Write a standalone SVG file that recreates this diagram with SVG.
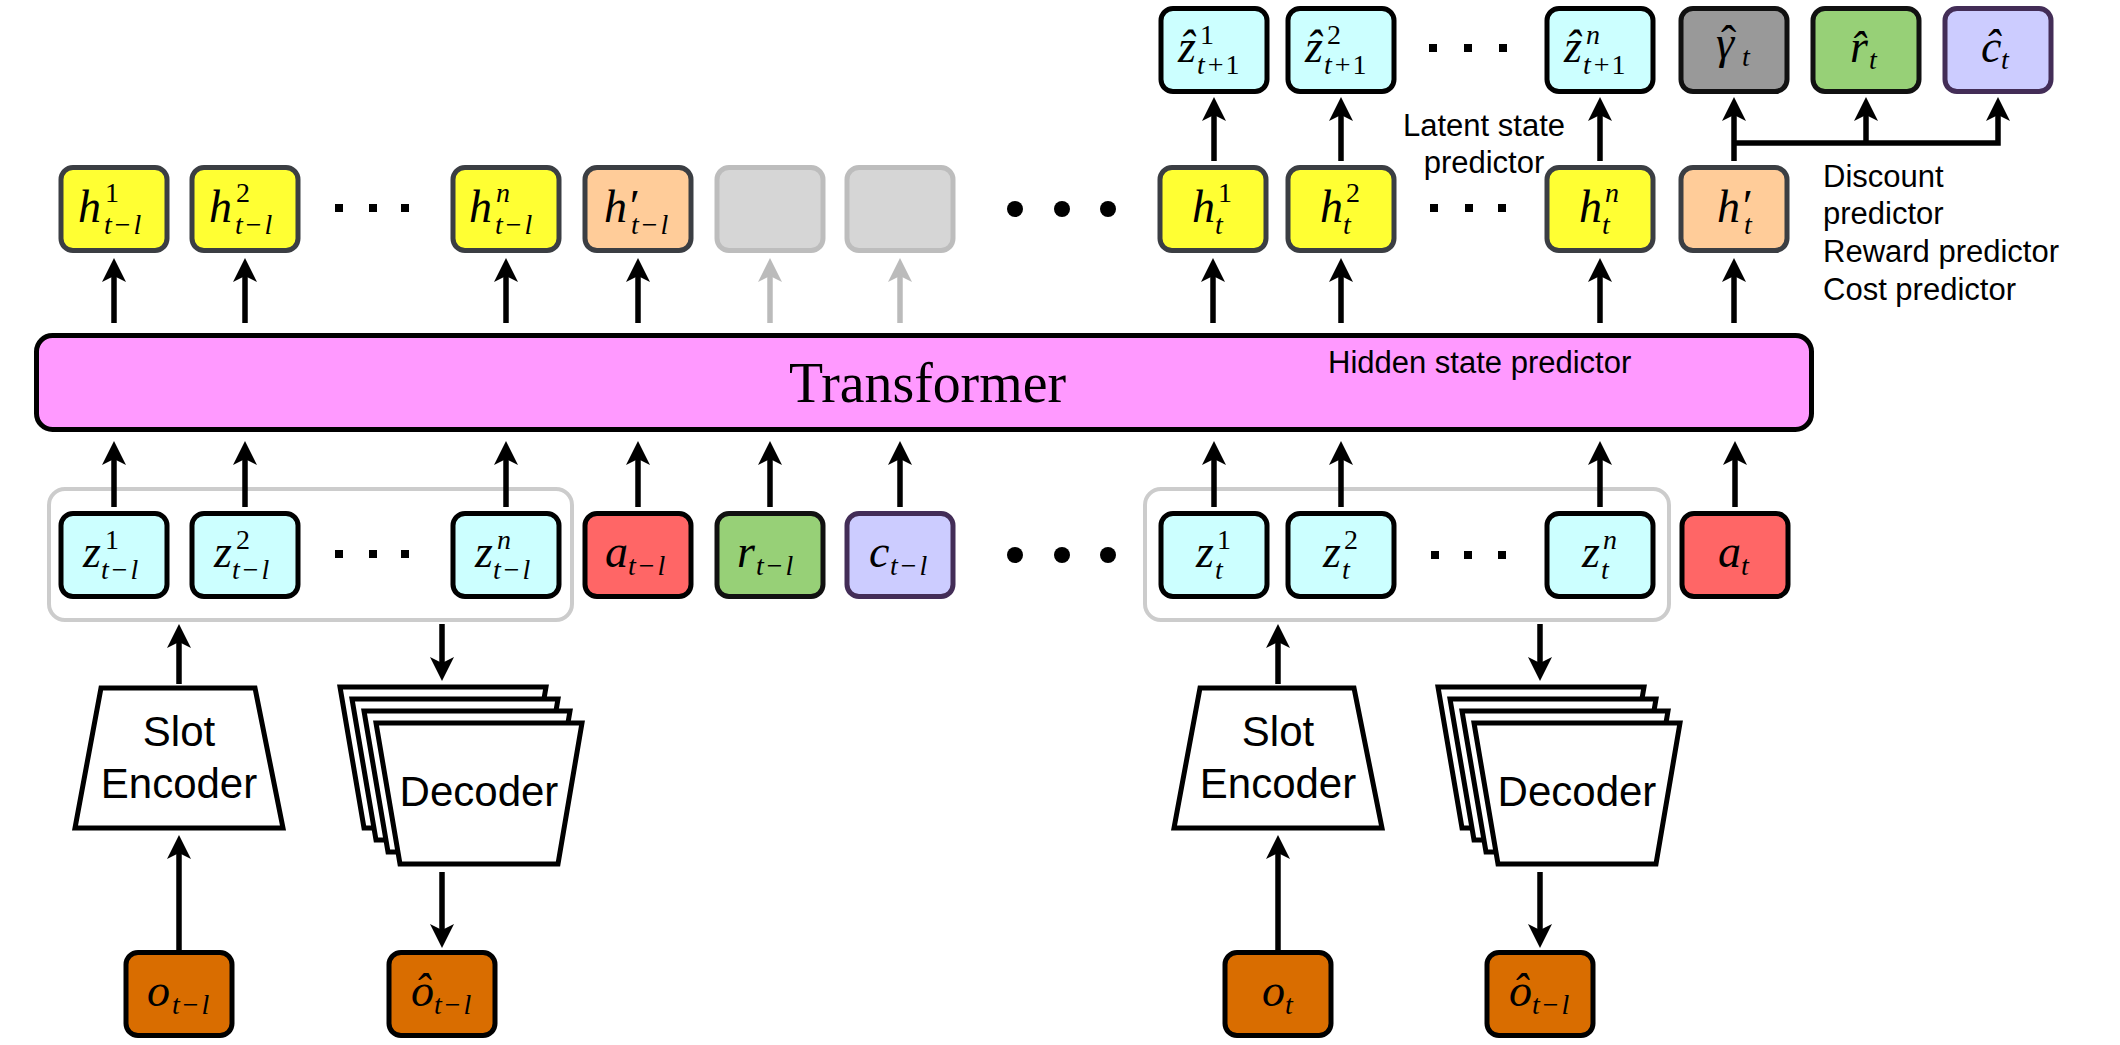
<svg xmlns="http://www.w3.org/2000/svg" width="2120" height="1045" viewBox="0 0 2120 1045">
<defs>
<style>
.bx{stroke-width:5}
.hy{fill:#ffff33;stroke:#3b3e43}
.hp{fill:#ffcc99;stroke:#3b3e43}
.gr{fill:#d6d6d6;stroke:#bdbdbd}
.cy{fill:#ccffff;stroke:#000}
.ga{fill:#999999;stroke:#111}
.gn{fill:#97d077;stroke:#111}
.pu{fill:#ccccff;stroke:#432d57}
.rd{fill:#ff6666;stroke:#000}
.or{fill:#d96d00;stroke:#000}
.grp{fill:none;stroke:#cccccc;stroke-width:4}
.sh{fill:#fff;stroke:#000;stroke-width:5;stroke-linejoin:miter}
.m{font-family:"Liberation Serif","DejaVu Serif",serif;font-size:46px;font-style:italic;fill:#000}
.s{font-size:28px}
.u{font-style:normal}
.lb{font-family:"Liberation Sans",Arial,sans-serif;font-size:31px;fill:#000}
.nl{font-family:"Liberation Sans",Arial,sans-serif;font-size:42px;fill:#000;text-anchor:middle}
.ar{stroke:#000;stroke-width:5.5;fill:none;marker-end:url(#ah)}
.ag{stroke:#bbbbbb;stroke-width:5.5;fill:none;marker-end:url(#ahg)}
.dot{fill:#000}
</style>
<marker id="ah" viewBox="0 0 24 24" markerWidth="24" markerHeight="24" markerUnits="userSpaceOnUse" refX="12" refY="12" orient="auto"><path d="M0,0 L24,12 L0,24 L6,12 Z" fill="#000"/></marker>
<marker id="ahg" viewBox="0 0 24 24" markerWidth="24" markerHeight="24" markerUnits="userSpaceOnUse" refX="12" refY="12" orient="auto"><path d="M0,0 L24,12 L0,24 L6,12 Z" fill="#bbbbbb"/></marker>
</defs>
<rect width="2120" height="1045" fill="#fff"/>

<g id="slot-groups">
<rect class="grp" x="49" y="489" width="523" height="131" rx="16"/>
<rect class="grp" x="1145" y="489" width="524" height="131" rx="16"/>
</g>

<g id="transformer">
<rect x="36.5" y="335.5" width="1775" height="94" rx="16" fill="#ff99ff" stroke="#000" stroke-width="5"/>
<text x="789" y="402" font-family="Liberation Serif, DejaVu Serif, serif" font-size="58" textLength="277" lengthAdjust="spacingAndGlyphs">Transformer</text>
<text class="lb" x="1328" y="373">Hidden state predictor</text>
</g>

<g id="connectors">
<line class="ar" x1="114" y1="323" x2="114" y2="270"/>
<line class="ar" x1="245" y1="323" x2="245" y2="270"/>
<line class="ar" x1="506" y1="323" x2="506" y2="270"/>
<line class="ar" x1="638" y1="323" x2="638" y2="270"/>
<line class="ag" x1="770" y1="323" x2="770" y2="270"/>
<line class="ag" x1="900" y1="323" x2="900" y2="270"/>
<line class="ar" x1="1213" y1="323" x2="1213" y2="270"/>
<line class="ar" x1="1341" y1="323" x2="1341" y2="270"/>
<line class="ar" x1="1600" y1="323" x2="1600" y2="270"/>
<line class="ar" x1="1734" y1="323" x2="1734" y2="270"/>
<line class="ar" x1="1214" y1="161" x2="1214" y2="109"/>
<line class="ar" x1="1341" y1="161" x2="1341" y2="109"/>
<line class="ar" x1="1600" y1="161" x2="1600" y2="109"/>
<line class="ar" x1="1734" y1="161" x2="1734" y2="109"/>
<line class="ar" x1="1866" y1="143" x2="1866" y2="109"/>
<path class="ar" d="M1734,143 H1998 V109"/>
<line class="ar" x1="114" y1="507" x2="114" y2="453"/>
<line class="ar" x1="245" y1="507" x2="245" y2="453"/>
<line class="ar" x1="506" y1="507" x2="506" y2="453"/>
<line class="ar" x1="638" y1="507" x2="638" y2="453"/>
<line class="ar" x1="770" y1="507" x2="770" y2="453"/>
<line class="ar" x1="900" y1="507" x2="900" y2="453"/>
<line class="ar" x1="1214" y1="507" x2="1214" y2="453"/>
<line class="ar" x1="1341" y1="507" x2="1341" y2="453"/>
<line class="ar" x1="1600" y1="507" x2="1600" y2="453"/>
<line class="ar" x1="1735" y1="507" x2="1735" y2="453"/>
<line class="ar" x1="179" y1="684" x2="179" y2="636"/>
<line class="ar" x1="1278" y1="684" x2="1278" y2="636"/>
<line class="ar" x1="442" y1="624" x2="442" y2="669"/>
<line class="ar" x1="1540" y1="624" x2="1540" y2="669"/>
<line class="ar" x1="179" y1="950" x2="179" y2="847"/>
<line class="ar" x1="1278" y1="950" x2="1278" y2="847"/>
<line class="ar" x1="442" y1="872" x2="442" y2="936"/>
<line class="ar" x1="1540" y1="872" x2="1540" y2="936"/>
</g>

<g id="ellipses">
<rect class="dot" x="335" y="204" width="8" height="8"/><rect class="dot" x="369" y="204" width="8" height="8"/><rect class="dot" x="401" y="204" width="8" height="8"/>
<rect class="dot" x="335" y="550" width="8" height="8"/><rect class="dot" x="369" y="550" width="8" height="8"/><rect class="dot" x="401" y="550" width="8" height="8"/>
<rect class="dot" x="1430" y="204" width="8" height="8"/><rect class="dot" x="1465" y="204" width="8" height="8"/><rect class="dot" x="1498" y="204" width="8" height="8"/>
<rect class="dot" x="1431" y="551" width="8" height="8"/><rect class="dot" x="1464" y="551" width="8" height="8"/><rect class="dot" x="1498" y="551" width="8" height="8"/>
<rect class="dot" x="1429" y="44" width="8" height="8"/><rect class="dot" x="1464" y="44" width="8" height="8"/><rect class="dot" x="1499" y="44" width="8" height="8"/>
<circle class="dot" cx="1015" cy="209" r="8"/><circle class="dot" cx="1062" cy="209" r="8"/><circle class="dot" cx="1108" cy="209" r="8"/>
<circle class="dot" cx="1015" cy="555" r="8"/><circle class="dot" cx="1062" cy="555" r="8"/><circle class="dot" cx="1108" cy="555" r="8"/>
</g>

<!-- h row -->
<g id="h1-tl"><rect class="bx hy" x="61" y="167.5" width="106" height="83" rx="12"/>
<text class="m"><tspan x="78" y="222">h</tspan><tspan class="s u" x="105" y="202">1</tspan><tspan class="s" x="104" y="234">t</tspan><tspan class="s u" dx="3">−</tspan><tspan class="s" dx="3">l</tspan></text></g>
<g id="h2-tl"><rect class="bx hy" x="192" y="167.5" width="106" height="83" rx="12"/>
<text class="m"><tspan x="209" y="222">h</tspan><tspan class="s u" x="236" y="202">2</tspan><tspan class="s" x="235" y="234">t</tspan><tspan class="s u" dx="3">−</tspan><tspan class="s" dx="3">l</tspan></text></g>
<g id="hn-tl"><rect class="bx hy" x="453" y="167.5" width="106" height="83" rx="12"/>
<text class="m"><tspan x="469" y="222">h</tspan><tspan class="s" x="496" y="202">n</tspan><tspan class="s" x="495" y="234">t</tspan><tspan class="s u" dx="3">−</tspan><tspan class="s" dx="3">l</tspan></text></g>
<g id="hp-tl"><rect class="bx hp" x="585" y="167.5" width="106" height="83" rx="12"/>
<text class="m"><tspan x="604" y="222">h′</tspan><tspan class="s" x="631" y="234">t</tspan><tspan class="s u" dx="3">−</tspan><tspan class="s" dx="3">l</tspan></text></g>
<g id="ghost1"><rect class="bx gr" x="717" y="167.5" width="106" height="83" rx="12"/></g>
<g id="ghost2"><rect class="bx gr" x="847" y="167.5" width="106" height="83" rx="12"/></g>
<g id="h1-t"><rect class="bx hy" x="1160" y="167.5" width="106" height="83" rx="12"/>
<text class="m"><tspan x="1192" y="222">h</tspan><tspan class="s u" x="1218" y="202">1</tspan><tspan class="s" x="1215" y="234">t</tspan></text></g>
<g id="h2-t"><rect class="bx hy" x="1288" y="167.5" width="106" height="83" rx="12"/>
<text class="m"><tspan x="1320" y="222">h</tspan><tspan class="s u" x="1346" y="202">2</tspan><tspan class="s" x="1343" y="234">t</tspan></text></g>
<g id="hn-t"><rect class="bx hy" x="1547" y="167.5" width="106" height="83" rx="12"/>
<text class="m"><tspan x="1579" y="222">h</tspan><tspan class="s" x="1605" y="202">n</tspan><tspan class="s" x="1602" y="234">t</tspan></text></g>
<g id="hp-t"><rect class="bx hp" x="1681" y="167.5" width="106" height="83" rx="12"/>
<text class="m"><tspan x="1717" y="222">h′</tspan><tspan class="s" x="1744" y="234">t</tspan></text></g>

<!-- top prediction row -->
<g id="zh1"><rect class="bx cy" x="1161" y="8.5" width="106" height="83" rx="12"/>
<text class="m"><tspan x="1178" y="62">z&#x302;</tspan><tspan class="s u" x="1200" y="44">1</tspan><tspan class="s" x="1197" y="74">t</tspan><tspan class="s u" dx="3">+</tspan><tspan class="s u" dx="2">1</tspan></text></g>
<g id="zh2"><rect class="bx cy" x="1288" y="8.5" width="106" height="83" rx="12"/>
<text class="m"><tspan x="1305" y="62">z&#x302;</tspan><tspan class="s u" x="1327" y="44">2</tspan><tspan class="s" x="1324" y="74">t</tspan><tspan class="s u" dx="3">+</tspan><tspan class="s u" dx="2">1</tspan></text></g>
<g id="zhn"><rect class="bx cy" x="1547" y="8.5" width="106" height="83" rx="12"/>
<text class="m"><tspan x="1564" y="62">z&#x302;</tspan><tspan class="s" x="1586" y="44">n</tspan><tspan class="s" x="1583" y="74">t</tspan><tspan class="s u" dx="3">+</tspan><tspan class="s u" dx="2">1</tspan></text></g>
<g id="gamma"><rect class="bx ga" x="1681" y="8.5" width="106" height="83" rx="12"/>
<text class="m"><tspan x="1716" y="58">γ</tspan><tspan class="u" x="1721" y="58">ˆ</tspan><tspan class="s" x="1742" y="66">t</tspan></text></g>
<g id="rhat"><rect class="bx gn" x="1813" y="8.5" width="106" height="83" rx="12"/>
<text class="m"><tspan x="1850" y="62">r&#x302;</tspan><tspan class="s" x="1869" y="69">t</tspan></text></g>
<g id="chat"><rect class="bx pu" x="1945" y="8.5" width="106" height="83" rx="12"/>
<text class="m"><tspan x="1981" y="62">c&#x302;</tspan><tspan class="s" x="2001" y="69">t</tspan></text></g>

<!-- z row -->
<g id="z1-tl"><rect class="bx cy" x="61" y="513.5" width="106" height="83" rx="12"/>
<text class="m"><tspan x="83" y="567">z</tspan><tspan class="s u" x="105" y="549">1</tspan><tspan class="s" x="101" y="579">t</tspan><tspan class="s u" dx="3">−</tspan><tspan class="s" dx="3">l</tspan></text></g>
<g id="z2-tl"><rect class="bx cy" x="192" y="513.5" width="106" height="83" rx="12"/>
<text class="m"><tspan x="214" y="567">z</tspan><tspan class="s u" x="236" y="549">2</tspan><tspan class="s" x="232" y="579">t</tspan><tspan class="s u" dx="3">−</tspan><tspan class="s" dx="3">l</tspan></text></g>
<g id="zn-tl"><rect class="bx cy" x="453" y="513.5" width="106" height="83" rx="12"/>
<text class="m"><tspan x="475" y="567">z</tspan><tspan class="s" x="497" y="549">n</tspan><tspan class="s" x="493" y="579">t</tspan><tspan class="s u" dx="3">−</tspan><tspan class="s" dx="3">l</tspan></text></g>
<g id="a-tl"><rect class="bx rd" x="585" y="513.5" width="106" height="83" rx="12"/>
<text class="m"><tspan x="605" y="567">a</tspan><tspan class="s" x="628" y="575">t</tspan><tspan class="s u" dx="3">−</tspan><tspan class="s" dx="3">l</tspan></text></g>
<g id="r-tl"><rect class="bx gn" x="717" y="513.5" width="106" height="83" rx="12"/>
<text class="m"><tspan x="737" y="567">r</tspan><tspan class="s" x="756" y="575">t</tspan><tspan class="s u" dx="3">−</tspan><tspan class="s" dx="3">l</tspan></text></g>
<g id="c-tl"><rect class="bx pu" x="847" y="513.5" width="106" height="83" rx="12"/>
<text class="m"><tspan x="869" y="567">c</tspan><tspan class="s" x="890" y="575">t</tspan><tspan class="s u" dx="3">−</tspan><tspan class="s" dx="3">l</tspan></text></g>
<g id="z1-t"><rect class="bx cy" x="1161" y="513.5" width="106" height="83" rx="12"/>
<text class="m"><tspan x="1196" y="567">z</tspan><tspan class="s u" x="1217" y="549">1</tspan><tspan class="s" x="1215" y="579">t</tspan></text></g>
<g id="z2-t"><rect class="bx cy" x="1288" y="513.5" width="106" height="83" rx="12"/>
<text class="m"><tspan x="1323" y="567">z</tspan><tspan class="s u" x="1344" y="549">2</tspan><tspan class="s" x="1342" y="579">t</tspan></text></g>
<g id="zn-t"><rect class="bx cy" x="1547" y="513.5" width="106" height="83" rx="12"/>
<text class="m"><tspan x="1582" y="567">z</tspan><tspan class="s" x="1603" y="549">n</tspan><tspan class="s" x="1601" y="579">t</tspan></text></g>
<g id="a-t"><rect class="bx rd" x="1682" y="513.5" width="106" height="83" rx="12"/>
<text class="m"><tspan x="1718" y="567">a</tspan><tspan class="s" x="1741" y="575">t</tspan></text></g>

<!-- encoders / decoders -->
<g id="enc-tl"><polygon class="sh" points="101,688 255,688 283,828 75,828"/>
<text class="nl" x="179" y="746">Slot</text><text class="nl" x="179" y="798">Encoder</text></g>
<g id="dec-tl">
<polygon class="sh" points="340,687 546,687 522,828 364,828"/>
<polygon class="sh" points="352,699 558,699 534,840 376,840"/>
<polygon class="sh" points="364,711 570,711 546,852 388,852"/>
<polygon class="sh" points="376,723 582,723 558,864 400,864"/>
<text class="nl" x="479" y="806">Decoder</text></g>
<g id="enc-t"><polygon class="sh" points="1200,688 1354,688 1382,828 1174,828"/>
<text class="nl" x="1278" y="746">Slot</text><text class="nl" x="1278" y="798">Encoder</text></g>
<g id="dec-t">
<polygon class="sh" points="1438,687 1644,687 1620,828 1462,828"/>
<polygon class="sh" points="1450,699 1656,699 1632,840 1474,840"/>
<polygon class="sh" points="1462,711 1668,711 1644,852 1486,852"/>
<polygon class="sh" points="1474,723 1680,723 1656,864 1498,864"/>
<text class="nl" x="1577" y="806">Decoder</text></g>

<!-- observation row -->
<g id="o-tl"><rect class="bx or" x="126" y="952.5" width="106" height="83" rx="12"/>
<text class="m"><tspan x="147" y="1006">o</tspan><tspan class="s" x="172" y="1014">t</tspan><tspan class="s u" dx="3">−</tspan><tspan class="s" dx="3">l</tspan></text></g>
<g id="oh-tl"><rect class="bx or" x="389" y="952.5" width="106" height="83" rx="12"/>
<text class="m"><tspan x="411" y="1006">o&#x302;</tspan><tspan class="s" x="434" y="1014">t</tspan><tspan class="s u" dx="3">−</tspan><tspan class="s" dx="3">l</tspan></text></g>
<g id="o-t"><rect class="bx or" x="1225" y="952.5" width="106" height="83" rx="12"/>
<text class="m"><tspan x="1262" y="1006">o</tspan><tspan class="s" x="1285" y="1014">t</tspan></text></g>
<g id="oh-t"><rect class="bx or" x="1487" y="952.5" width="106" height="83" rx="12"/>
<text class="m"><tspan x="1509" y="1006">o&#x302;</tspan><tspan class="s" x="1532" y="1014">t</tspan><tspan class="s u" dx="3">−</tspan><tspan class="s" dx="3">l</tspan></text></g>

<g id="annotations">
<text class="lb" x="1484" y="136" text-anchor="middle">Latent state</text>
<text class="lb" x="1484" y="173" text-anchor="middle">predictor</text>
<text class="lb" x="1823" y="187">Discount</text>
<text class="lb" x="1823" y="224">predictor</text>
<text class="lb" x="1823" y="262">Reward predictor</text>
<text class="lb" x="1823" y="300">Cost predictor</text>
</g>
</svg>
